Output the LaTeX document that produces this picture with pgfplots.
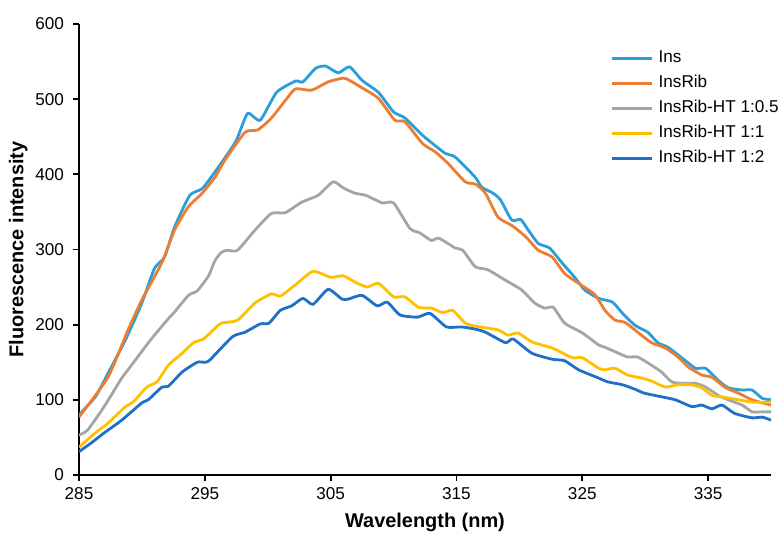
\documentclass[border=0pt]{standalone}
\usepackage{fontspec}
\setmainfont{Liberation Sans}
\usepackage{pgfplots}
\pgfplotsset{compat=1.18}
\definecolor{cIns}{RGB}{41,158,216}
\definecolor{cRib}{RGB}{237,125,49}
\definecolor{cHalf}{RGB}{165,165,165}
\definecolor{cOne}{RGB}{255,192,0}
\definecolor{cTwo}{RGB}{32,112,200}

\pgfplotstableread{
x y
285 80
286.3 104
287.3 135
288.7 180
290 229
291 275
291.8 290
292.6 330
293.8 372
294.8 381
295.8 403
296.6 422
297.5 445
298.4 481
299.4 472
300.7 509
302.2 524
302.8 523
303.8 541
304.6 544
305.6 535
306.5 543
307.5 525
308.8 509
310 483
310.9 475
312.3 452
314.1 428
314.9 423
316.5 396
317 383
317.9 375
318.5 366
319.4 339
320.1 340
320.7 326
321.5 308
322.4 302
323.4 282
324.4 263
325.2 246
326.3 235
327.4 230
328.2 215
329.2 199
330.2 190
331 176
331.8 170
332.9 156
334 142
334.8 142
335.8 126
336.6 116
337.7 113
338.5 113
339.3 102
340 100
}\tIns

\pgfplotstableread{
x y
285 77
287.3 130
288.9 193
290 233
291.6 283
292.6 326
293.7 357
294.8 375
295.8 396
296.6 419
298.2 456
299.2 459
300.3 475
301.9 509
302.3 514
303.5 512
304.8 523
306 528
306.5 525
307.5 515
308.8 501
310.1 472
310.9 470
312.3 441
313.3 430
314.3 415
315.7 390
316.5 387
317.3 375
318.3 343
319.4 332
320.5 317
321.5 299
322.6 290
323.6 268
324.7 255
326 240
326.8 219
327.6 206
328.4 203
329.4 190
330.5 176
331.6 169
332.6 157
333.4 144
334.5 133
335.3 130
336.4 116
337.4 109
338.5 100
340 93
}\tRib

\pgfplotstableread{
x y
285 53
285.7 60
287 91
288.4 129
288.9 140
290.2 169
290.8 182
292 206
292.6 217
293.7 239
294.4 245
295.3 265
295.8 285
296.3 296
296.8 299
297.6 299
299 326
300.3 348
301.4 349
302.7 363
304 372
305.2 390
306 382
306.9 375
307.8 372
309.1 362
310 362
311.3 328
312.1 322
313 312
313.6 315
314.9 302
315.5 299
316.5 277
317.5 273
318.9 259
320.2 246
321.2 229
322 222
322.7 223
323.6 202
325 189
326.3 173
326.8 170
327.6 164
328.6 157
329.4 157
330.5 146
331.3 137
332.1 124
332.9 122
334 122
334.8 117
335.8 106
336.6 100
337.7 93
338.5 84
339.3 84
340 84
}\tHalf

\pgfplotstableread{
x y
285 37
286.3 56
287.3 69
288.7 91
289.3 97
290.4 117
291.2 124
292.1 146
293.2 162
294.1 176
294.9 181
295.8 195
296.3 202
297.6 206
299 229
300.3 241
301 238
302.2 253
303.6 271
305 263
306 265
306.9 257
307.9 250
308.8 255
310 237
310.9 237
312 223
313 222
313.9 216
314.7 219
315.7 202
316.5 198
318.3 193
319.1 186
319.9 189
321 177
322.6 169
324.2 156
325 156
326.3 142
326.8 140
327.6 142
328.6 133
329.7 129
330.5 125
331.6 117
332.6 120
333.7 120
334.5 116
335.3 106
336.1 104
337.1 101
338.5 97
340 97
}\tOne

\pgfplotstableread{
x y
285 31
286 43
287 56
288.4 73
290 96
290.5 100
291.6 117
292.1 118
293.2 137
294.4 150
295 150
295.4 153
297.2 184
298.2 190
299.4 201
300.1 202
301 219
301.9 225
302.8 235
303.6 227
304.8 247
305.9 234
306.4 234
307.5 239
308.7 225
309.5 230
310.5 213
311.9 210
312.9 215
314.2 197
315.4 197
316.5 194
317.3 190
318.9 176
319.5 181
321 162
322.6 154
323.6 152
324.7 140
326.3 129
327 124
328.2 120
329.2 114
329.9 109
331.3 104
332.4 100
333.7 91
334.5 93
335.3 88
336.1 93
337.1 82
338.5 76
339.3 77
340 73
}\tTwo

\begin{document}
\begin{tikzpicture}
\begin{axis}[
  scale only axis, width=346bp, height=225.5bp,
  xmin=285, xmax=340, ymin=0, ymax=600,
  axis x line=bottom, axis y line=left,
  axis line style={-, black, line width=1.1bp},
  xtick={285,295,...,335}, ytick={0,100,...,600},
  tick align=outside, major tick length=3bp,
  tick style={black, line width=0.9bp},
  /pgf/number format/assume math mode=true,
  /pgf/number format/1000 sep={},
  ticklabel style={font=\fontsize{8.6}{10}\selectfont},
  yticklabel style={xshift=-1bp},
  xlabel={\textbf{Wavelength (nm)}},
  ylabel={\textbf{Fluorescence intensity}},
  label style={font=\fontsize{10}{12}\selectfont},
  x label style={at={(axis description cs:0.5,-0.104)}, anchor=center},
  y label style={at={(axis description cs:-0.088,0.5)}, anchor=center},
  no markers,
  every axis plot/.append style={line width=1.4bp, smooth, tension=0.35, line join=round},
  legend style={draw=none, fill=none, at={(axis description cs:0.768,0.944)}, anchor=north west,
    font=\fontsize{8.6}{10}\selectfont, row sep=4bp, inner sep=0pt,
    nodes={inner sep=0pt, text height=6.5bp, text depth=2bp},
    /tikz/every odd column/.append style={column sep=2.5bp}},
  legend cell align=left,
  legend image code/.code={\draw[#1, line width=1.4bp] (0bp,0bp) -- (20bp,0bp);},
]
\addplot[cIns] table {\tIns};
\addplot[cRib] table {\tRib};
\addplot[cHalf] table {\tHalf};
\addplot[cOne] table {\tOne};
\addplot[cTwo] table {\tTwo};
\legend{Ins, InsRib, InsRib-HT 1:0.5, InsRib-HT 1:1, InsRib-HT 1:2}
\coordinate (bl) at (rel axis cs:0,0);
\coordinate (tr) at (rel axis cs:1,1);
\end{axis}
\pgfresetboundingbox
\path[use as bounding box] ([shift={(-39.5bp,-29bp)}]bl) rectangle ([shift={(4.5bp,12bp)}]tr);
\end{tikzpicture}
\end{document}
